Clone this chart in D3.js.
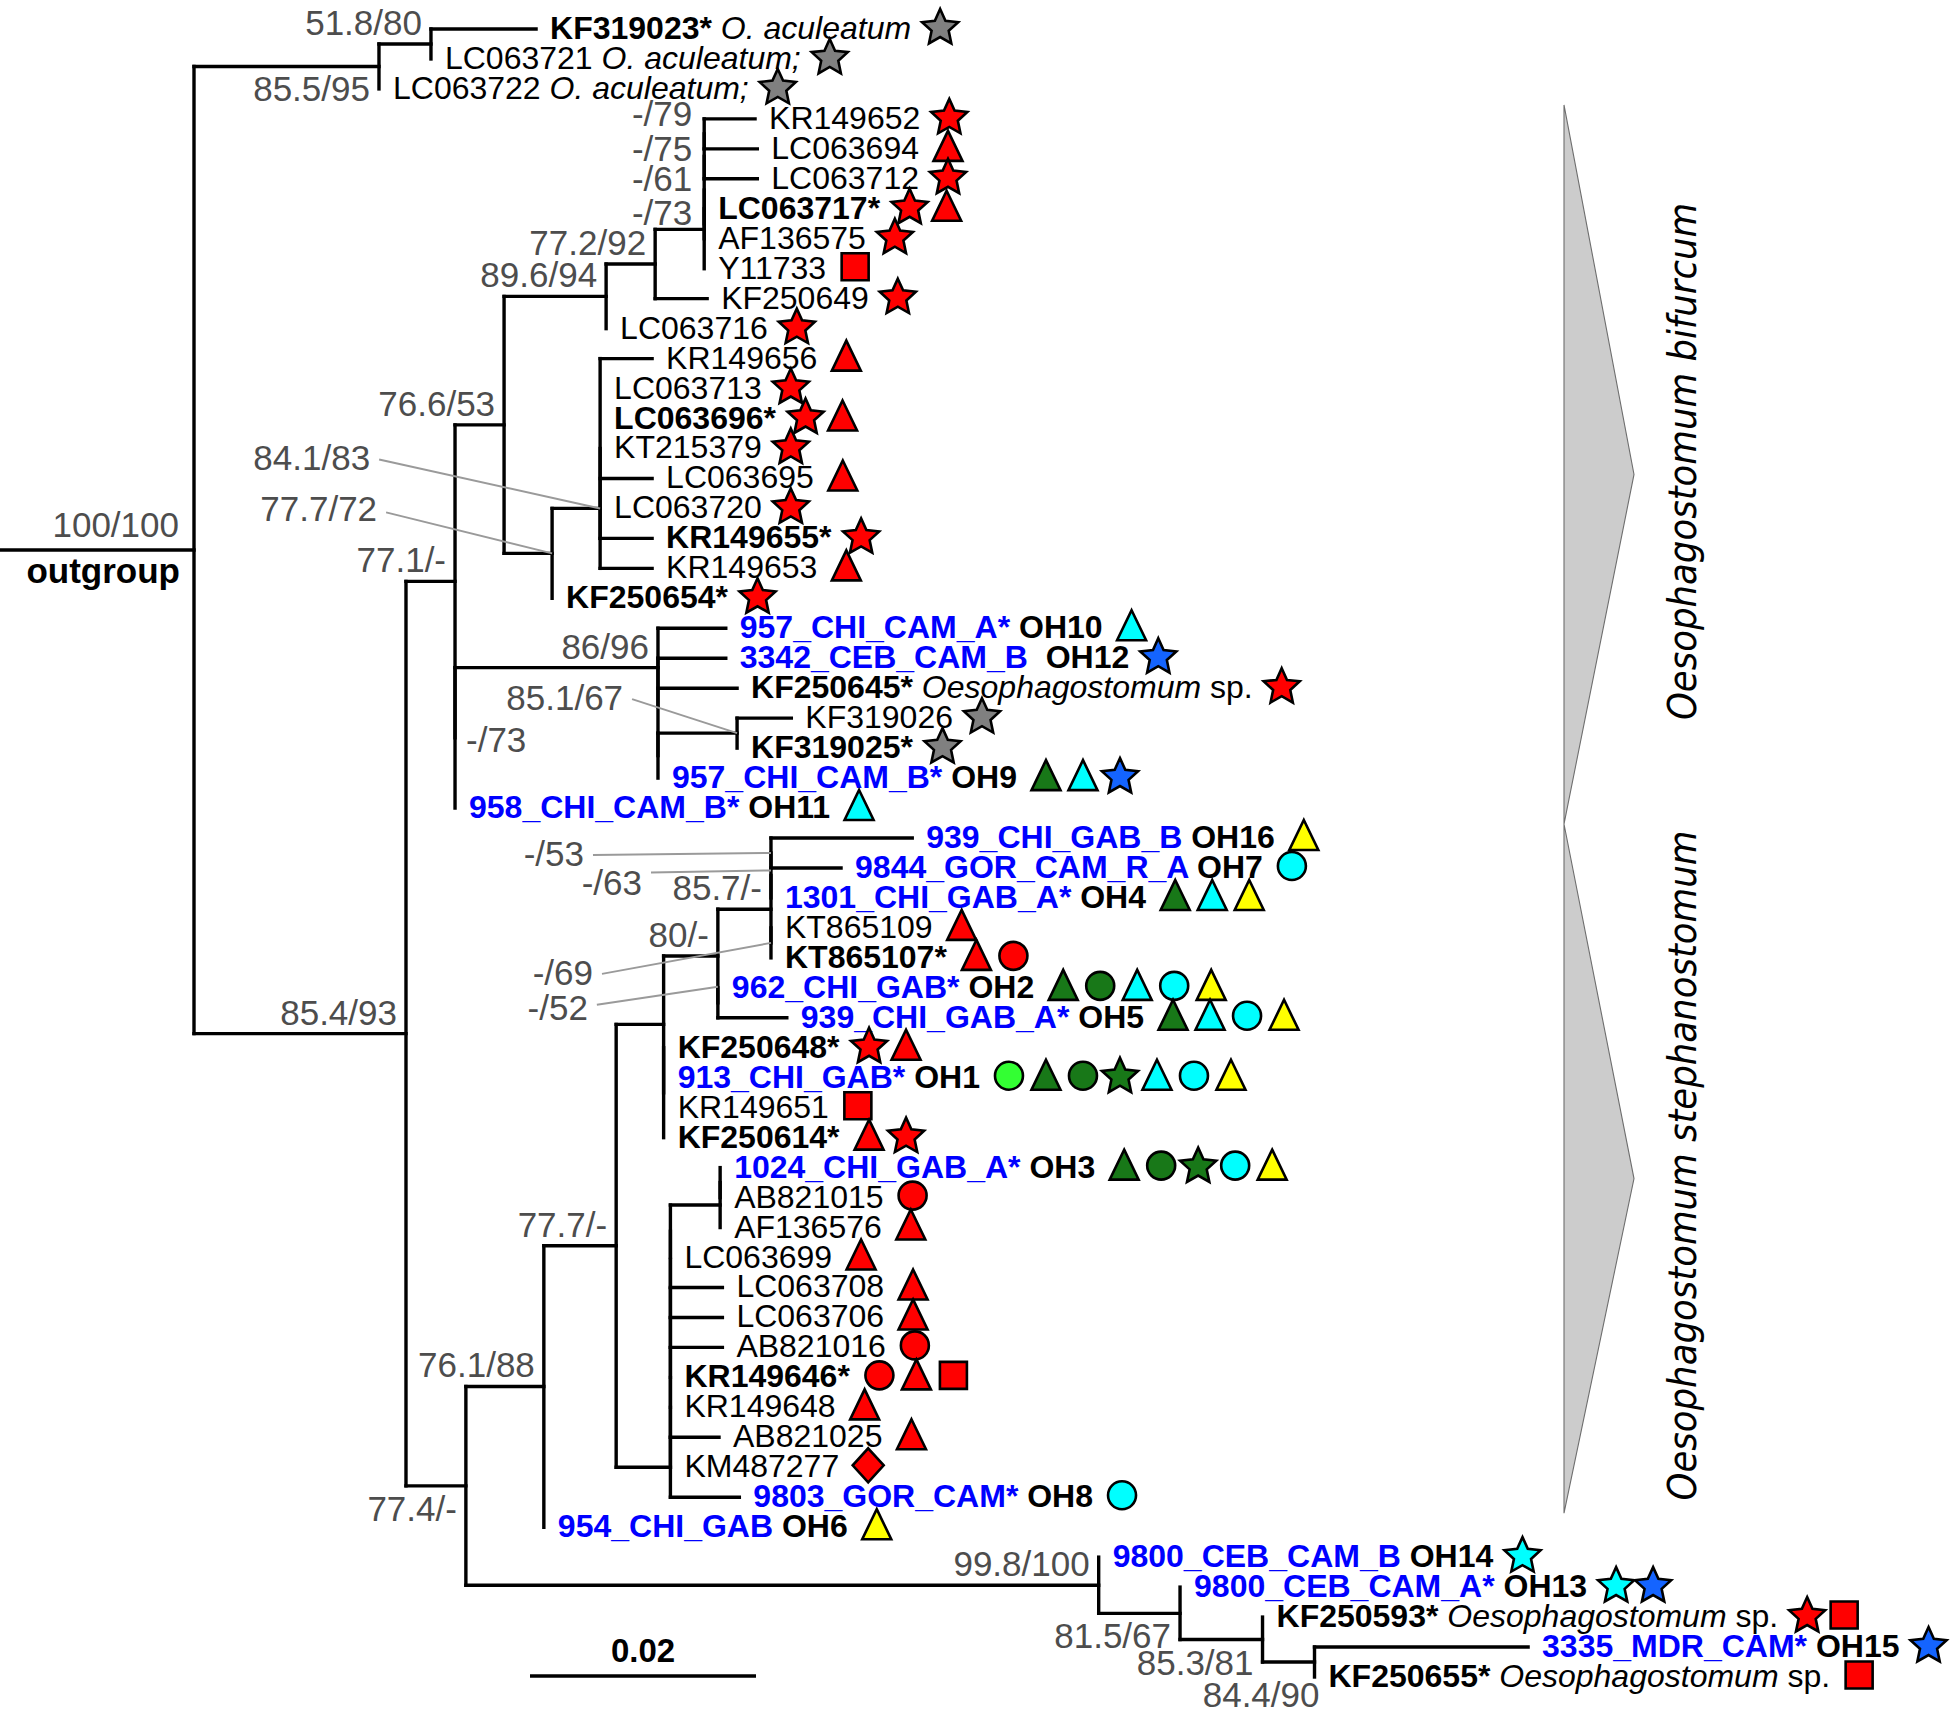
<!DOCTYPE html>
<html><head><meta charset="utf-8">
<script src="https://cdn.jsdelivr.net/npm/d3@7"></script>
<style>
body{margin:0;background:#fff}
svg{display:block;background:#fff}
</style></head><body>
<svg id="chart" width="1960" height="1710"></svg>
<script>
// ================= DATA =================
// internal nodes: [id, parentId, branch length (subst./site), support (SH-aLRT/UFBoot)]
const internalNodes = [
  ["root","",0,"100/100"],
  ["oA","root",0.01637,"85.5/95"],
  ["oB","oA",0.0046,"51.8/80"],
  ["ing","root",0.01876,"85.4/93"],
  ["bif","ing",0.00434,"77.1/-"],
  ["b1","bif",0.00434,"76.6/53"],
  ["b2","b1",0.00903,"89.6/94"],
  ["b3","b2",0.00434,"77.2/92"],
  ["p73","b3",0.00434,"-/73"],
  ["p61","p73",0,"-/61"],
  ["p75","p61",0,"-/75"],
  ["p79","p75",0,"-/79"],
  ["p0","p61",0,""],
  ["b4","b1",0.00425,"77.7/72"],
  ["b5","b4",0.00425,"84.1/83"],
  ["b6","b5",0,""],
  ["c73","bif",0,"-/73"],
  ["c1","c73",0.01796,"86/96"],
  ["c2","c1",0,""],
  ["c3","c2",0,""],
  ["c4","c3",0.0070,"85.1/67"],
  ["s0","ing",0.0053,"77.4/-"],
  ["s1","s0",0.0069,"76.1/88"],
  ["s2","s1",0.0064,"77.7/-"],
  ["s3","s2",0.0042,""],
  ["s4","s3",0.0048,"80/-"],
  ["s5","s4",0.0047,"85.7/-"],
  ["s63","s5",0,"-/63"],
  ["s53","s63",0,"-/53"],
  ["s69","s5",0,"-/69"],
  ["s52","s4",0,"-/52"],
  ["s6","s3",0,""],
  ["n2","s2",0.0048,""],
  ["z8","n2",0,""],
  ["z7","z8",0,""],
  ["z6","z7",0,""],
  ["z5","z6",0,""],
  ["z4","z5",0,""],
  ["z3","z4",0,""],
  ["z2","z3",0,""],
  ["z1","z2",0,""],
  ["m0","z1",0.0044,""],
  ["m1","m0",0,""],
  ["r0","s0",0.0560,"99.8/100"],
  ["r1","r0",0.0072,"81.5/67"],
  ["r2","r1",0.0073,"85.3/81"],
  ["r3","r2",0.0046,"84.4/90"]
];

// leaves in display order: [name, parentId, branch length, style (n=plain, b=bold, s=sample), extra text, host symbols]
// host symbols: shape (s=star,t=triangle,c=circle,q=square,d=diamond) + colour code
const leaves = [
  ["KF319023*","oB",0.0093,"b","O. aculeatum","sG"],
  ["LC063721","oB",0,"n","O. aculeatum;","sG"],
  ["LC063722","oA",0,"n","O. aculeatum;","sG"],
  ["KR149652","p79",0.0045,"n","","sR"],
  ["LC063694","p79",0.0047,"n","","tR"],
  ["LC063712","p75",0.0047,"n","","sR"],
  ["LC063717*","p0",0,"b","","sR tR"],
  ["AF136575","p0",0,"n","","sR"],
  ["Y11733","p73",0,"n","","qR"],
  ["KF250649","b3",0.0046,"n","","sR"],
  ["LC063716","b2",0,"n","","sR"],
  ["KR149656","b6",0.0046,"n","","tR"],
  ["LC063713","b6",0,"n","","sR"],
  ["LC063696*","b6",0,"b","","sR tR"],
  ["KT215379","b6",0,"n","","sR"],
  ["LC063695","b6",0.0046,"n","","tR"],
  ["LC063720","b6",0,"n","","sR"],
  ["KR149655*","b6",0.0046,"b","","sR"],
  ["KR149653","b5",0.0046,"n","","tR"],
  ["KF250654*","b4",0,"b","","sR"],
  ["957_CHI_CAM_A*","c1",0.0060,"s","OH10","tC"],
  ["3342_CEB_CAM_B","c2",0.0060,"s","\u00a0OH12","sB"],
  ["KF250645*","c2",0.0070,"b","Oesophagostomum sp.","sR"],
  ["KF319026","c4",0.0048,"n","","sG"],
  ["KF319025*","c4",0,"b","","sG"],
  ["957_CHI_CAM_B*","c3",0,"s","OH9","tD tC sB"],
  ["958_CHI_CAM_B*","c73",0,"s","OH11","tC"],
  ["939_CHI_GAB_B","s53",0.0125,"s","OH16","tY"],
  ["9844_GOR_CAM_R_A","s53",0.0062,"s","OH7","cC"],
  ["1301_CHI_GAB_A*","s63",0,"s","OH4","tD tC tY"],
  ["KT865109","s69",0,"n","","tR"],
  ["KT865107*","s69",0,"b","","tR cR"],
  ["962_CHI_GAB*","s52",0,"s","OH2","tD cD tC cC tY"],
  ["939_CHI_GAB_A*","s52",0.0061,"s","OH5","tD tC cC tY"],
  ["KF250648*","s6",0,"b","","sR tR"],
  ["913_CHI_GAB*","s6",0,"s","OH1","cL tD cD sD tC cC tY"],
  ["KR149651","s6",0,"n","","qR"],
  ["KF250614*","s6",0,"b","","tR sR"],
  ["1024_CHI_GAB_A*","m1",0,"s","OH3","tD cD sD cC tY"],
  ["AB821015","m1",0,"n","","cR"],
  ["AF136576","m0",0,"n","","tR"],
  ["LC063699","z1",0,"n","","tR"],
  ["LC063708","z2",0.0046,"n","","tR"],
  ["LC063706","z3",0.0046,"n","","tR"],
  ["AB821016","z4",0.0046,"n","","cR"],
  ["KR149646*","z5",0,"b","","cR tR qR"],
  ["KR149648","z6",0,"n","","tR"],
  ["AB821025","z7",0.0043,"n","","tR"],
  ["KM487277","z8",0,"n","","dR"],
  ["9803_GOR_CAM*","n2",0.0061,"s","OH8","cC"],
  ["954_CHI_GAB","s1",0,"s","OH6","tY"],
  ["9800_CEB_CAM_B","r0",0,"s","OH14","sC"],
  ["9800_CEB_CAM_A*","r1",0,"s","OH13","sC sB"],
  ["KF250593*","r2",0,"b","Oesophagostomum sp.","sR qR"],
  ["3335_MDR_CAM*","r3",0.0189,"s","OH15","sB"],
  ["KF250655*","r3",0,"b","Oesophagostomum sp.","qR"]
];

const hostColours = {R:"#ff0000", G:"#808080", D:"#187818", L:"#33ff33", C:"#00ffff", Y:"#ffff00", B:"#1464ff"};

// clades: [name, first leaf index, last leaf index]
const clades = [
  ["Oesophagostomum bifurcum", 3, 26],
  ["Oesophagostomum stephanostomum", 27, 49]
];

const rootStemLength = 0.0172;
const scaleBarValue = 0.02;

// ================= LAYOUT =================
const FONT = '"Liberation Sans", Arial, Helvetica, sans-serif';
const svg = d3.select("#chart");

const x = d3.scaleLinear().domain([0, scaleBarValue]).range([194, 420]);
const y = d3.scaleLinear().domain([0, leaves.length - 1]).range([29, 1677]);

const table = internalNodes.map(d => ({id: d[0], parent: d[1] || null, len: d[2], support: d[3], leaf: false}))
  .concat(leaves.map((d, i) => ({id: d[0], parent: d[1], len: d[2], style: d[3], extra: d[4], hosts: d[5], leaf: true, idx: i})));

const root = d3.stratify().id(d => d.id).parentId(d => d.parent)(table);
root.eachAfter(n => { n.minIdx = n.children ? d3.min(n.children, c => c.minIdx) : n.data.idx; });
root.sort((a, b) => a.minIdx - b.minIdx);
root.eachBefore(n => { n.dist = n.parent ? n.parent.dist + n.data.len : 0; n.px = x(n.dist); });
root.eachAfter(n => {
  n.py = n.children ? (n.children[0].py + n.children[n.children.length - 1].py) / 2 : y(n.data.idx);
});

// ---------- clade shapes ----------
const gClade = svg.append("g");
clades.forEach(c => {
  const top = y(c[1]) - 14, bot = y(c[2]) + 16, mid = (top + bot) / 2;
  gClade.append("path")
    .attr("d", d3.line()([[1564, top], [1634, mid + 10], [1564, bot]]) + "Z")
    .attr("fill", "#cccccc").attr("stroke", "#6e6e6e").attr("stroke-width", 1.1);
  gClade.append("text")
    .attr("transform", `translate(1696,${mid - 3}) rotate(-90)`)
    .attr("text-anchor", "middle")
    .attr("font-family", '"DejaVu Sans Condensed","DejaVu Sans",sans-serif')
    .attr("font-stretch", "condensed")
    .attr("font-style", "italic")
    .attr("font-size", 39.5)
    .attr("fill", "#000")
    .text(c[0]);
});

// ---------- branches ----------
const gTree = svg.append("g").attr("stroke", "#000").attr("stroke-width", 3.4)
  .attr("stroke-linecap", "square").attr("fill", "none");
gTree.append("line")
  .attr("x1", x(-rootStemLength)).attr("x2", x(0)).attr("y1", root.py).attr("y2", root.py);
root.descendants().forEach(n => {
  if (n.parent && n.data.len > 0) {
    gTree.append("line").attr("x1", n.parent.px).attr("x2", n.px).attr("y1", n.py).attr("y2", n.py);
  }
  if (n.children) {
    gTree.append("line").attr("x1", n.px).attr("x2", n.px)
      .attr("y1", n.children[0].py).attr("y2", n.children[n.children.length - 1].py);
  }
});

// ---------- support values ----------
const placements = {oA: "below", s0: "below", r1: "below", r2: "below", c73: "right"};
// manual label nudges (text anchor = end): [dx, dy]
const nudges = {p79: [-12, -8], p75: [-12, 5], p61: [-12, 1], p73: [-12, -4], r3: [5, 45], root: [-15, -13]};
// callouts with leader line: [dx, dy, leader start dy (from baseline), leader end dy (from node)]
const callouts = {b5: [-230, -38, -11, 0], b4: [-175, -32, -9, 0], c4: [-114, -23, -11, 0],
  s53: [-187, 13, -11, 0], s63: [-129, 20, -23, -5], s69: [-178, 42, -11, 0], s52: [-130, 17, -15, -16]};
const gSup = svg.append("g").attr("font-family", FONT).attr("font-size", 35).attr("fill", "#4d4d4d");
root.descendants().filter(n => n.children && n.data.support).forEach(n => {
  const id = n.data.id;
  if (callouts[id]) {
    const [dx, dy, ls, le] = callouts[id];
    gSup.append("text").attr("x", n.px + dx).attr("y", n.py + dy).attr("text-anchor", "end").text(n.data.support);
    svg.append("line").attr("x1", n.px + dx + 9).attr("y1", n.py + dy + ls)
      .attr("x2", n.px).attr("y2", n.py + le).attr("stroke", "#9a9a9a").attr("stroke-width", 2);
  } else if (nudges[id]) {
    const [dx, dy] = nudges[id];
    gSup.append("text").attr("x", n.px + dx).attr("y", n.py + dy).attr("text-anchor", "end").text(n.data.support);
  } else if (placements[id] === "below") {
    gSup.append("text").attr("x", n.px - 9).attr("y", n.py + 35).attr("text-anchor", "end").text(n.data.support);
  } else if (placements[id] === "right") {
    gSup.append("text").attr("x", n.px + 11).attr("y", n.py + 14).text(n.data.support);
  } else {
    gSup.append("text").attr("x", n.px - 9).attr("y", n.py - 9).attr("text-anchor", "end").text(n.data.support);
  }
});

svg.append("text").attr("x", x(0) - 14).attr("y", root.py + 33).attr("text-anchor", "end")
  .attr("font-family", FONT).attr("font-size", 35).attr("font-weight", "bold").text("outgroup");

// ---------- leaf labels + host symbols ----------
function symbolPath(shape) {
  if (shape === "t") return "M0,-16L14.5,14L-14.5,14Z";
  if (shape === "q") return "M-13.5,-13.5H13.5V13.5H-13.5Z";
  if (shape === "d") return "M0,-17L15.5,0L0,17L-15.5,0Z";
  if (shape === "c") return d3.symbol(d3.symbolCircle, Math.PI * 14 * 14)();
  // star
  const pts = [];
  for (let i = 0; i < 10; i++) {
    const r = i % 2 === 0 ? 19 : 9;
    const a = -Math.PI / 2 + i * Math.PI / 5;
    pts.push([r * Math.cos(a), r * Math.sin(a) + 1]);
  }
  return d3.line()(pts) + "Z";
}

const gLeaf = svg.append("g").attr("font-family", FONT).attr("font-size", 32);
const gSym = svg.append("g").attr("stroke", "#000").attr("stroke-width", 2.6).attr("stroke-linejoin", "miter");
root.leaves().forEach(n => {
  const d = n.data;
  const t = gLeaf.append("text").attr("x", n.px + 14).attr("y", n.py + 10);
  if (d.style === "s") {
    t.append("tspan").attr("fill", "#0000ff").attr("font-weight", "bold").text(d.id);
    t.append("tspan").attr("fill", "#000").attr("font-weight", "bold").text(" " + d.extra);
  } else {
    t.append("tspan").attr("font-weight", d.style === "b" ? "bold" : "normal").text(d.id);
    if (d.extra) {
      const m = d.extra.match(/^(.*?)( sp\.)$/);
      if (m) {
        t.append("tspan").attr("font-style", "italic").text(" " + m[1]);
        t.append("tspan").text(m[2]);
      } else {
        t.append("tspan").attr("font-style", "italic").text(" " + d.extra);
      }
    }
  }
  const bb = t.node().getBBox();
  const end = bb.x + bb.width;
  (d.hosts ? d.hosts.split(" ") : []).forEach((h, i) => {
    gSym.append("path")
      .attr("d", symbolPath(h[0]))
      .attr("transform", `translate(${end + 14 + 15 + i * 37},${n.py - 2})`)
      .attr("fill", hostColours[h[1]]);
  });
});

// ---------- scale bar ----------
const sb = svg.append("g");
sb.append("line").attr("x1", 530).attr("x2", 530 + x(scaleBarValue) - x(0))
  .attr("y1", 1676).attr("y2", 1676).attr("stroke", "#000").attr("stroke-width", 3.4);
sb.append("text").attr("x", 530 + (x(scaleBarValue) - x(0)) / 2).attr("y", 1662)
  .attr("text-anchor", "middle").attr("font-family", FONT).attr("font-weight", "bold")
  .attr("font-size", 33).text(String(scaleBarValue));
</script>
</body></html>
